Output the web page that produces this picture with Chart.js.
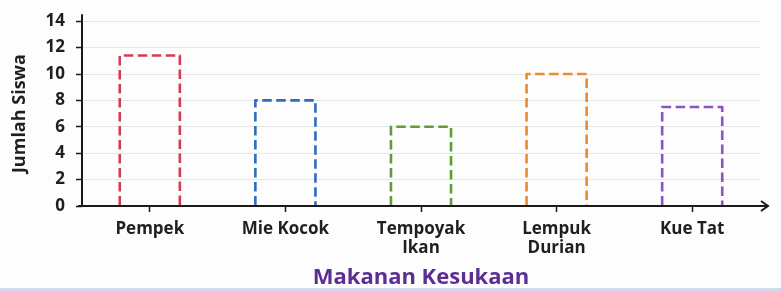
<!DOCTYPE html>
<html>
<head>
<meta charset="utf-8">
<script src="https://cdn.jsdelivr.net/npm/chart.js@4/dist/chart.umd.min.js"></script>
<style>
  html, body { margin: 0; padding: 0; }
  body { width: 781px; height: 291px; background: linear-gradient(to bottom, #fdfdfd 0px, #fdfdfd 288px, #d3d8ee 288px, #d3d8ee 291px); overflow: hidden; }
  #wrap { position: relative; width: 781px; height: 291px; }
</style>
</head>
<body>
<div id="wrap"><canvas id="c"></canvas></div>
<script>
// ---- data ----
const categories = [["Pempek"], ["Mie Kocok"], ["Tempoyak", "Ikan"], ["Lempuk", "Durian"], ["Kue Tat"]];
const values = [11.4, 8, 6, 10, 7.5];
const barColors = ["#d43a5a", "#2e6cc2", "#5c9e34", "#ee8a2c", "#8c52c6"];
const yTickValues = [0, 2, 4, 6, 8, 10, 12, 14];
const yTitle = "Jumlah Siswa";
const xTitle = "Makanan Kesukaan";

const FONT = "'Open Sans', 'DejaVu Sans', sans-serif";
const TEXT = "#1f1f1f";

// dashed outline bars (open bottom) drawn from the library's computed bar elements
const dashedBars = {
  id: 'dashedBars',
  afterDatasetsDraw(chart) {
    const ctx = chart.ctx;
    chart.data.datasets.forEach((ds, di) => {
      const meta = chart.getDatasetMeta(di);
      meta.data.forEach((bar, i) => {
        const p = bar.getProps(['x', 'y', 'base', 'width'], true);
        const l = p.x - p.width / 2, r = p.x + p.width / 2;
        ctx.save();
        ctx.strokeStyle = ds.outlineColors[i];
        ctx.lineWidth = 2.6;
        ctx.setLineDash([9.5, 4.5]);
        ctx.lineJoin = 'round';
        ctx.beginPath();
        ctx.moveTo(l, p.base);
        ctx.lineTo(l, p.y);
        ctx.lineTo(r, p.y);
        ctx.lineTo(r, p.base);
        ctx.stroke();
        ctx.restore();
      });
    });
  }
};

// axis lines with arrow on x axis
const axesLines = {
  id: 'axesLines',
  afterDraw(chart) {
    const ctx = chart.ctx;
    const ca = chart.chartArea;
    const x0 = chart.scales.x.left;
    const y0 = chart.scales.y.getPixelForValue(0);
    ctx.save();
    ctx.strokeStyle = '#1a1a1a';
    ctx.lineWidth = 2;
    ctx.setLineDash([]);
    ctx.beginPath();
    ctx.moveTo(x0, ca.top - 7);
    ctx.lineTo(x0, y0);
    ctx.stroke();
    ctx.beginPath();
    ctx.moveTo(x0 - 4, y0);
    ctx.lineTo(ca.right + 8, y0);
    ctx.stroke();
    ctx.beginPath();
    ctx.moveTo(ca.right + 1, y0 - 5);
    ctx.lineTo(ca.right + 8, y0);
    ctx.lineTo(ca.right + 1, y0 + 5);
    ctx.stroke();
    ctx.restore();
  }
};

new Chart(document.getElementById('c'), {
  type: 'bar',
  data: {
    labels: categories,
    datasets: [{
      data: values,
      backgroundColor: 'rgba(0,0,0,0)',
      borderWidth: 0,
      outlineColors: barColors,
      categoryPercentage: 1,
      barPercentage: 0.443
    }]
  },
  options: {
    responsive: true,
    maintainAspectRatio: false,
    animation: false,
    layout: { padding: { top: 20, right: 21, left: 0, bottom: 0 } },
    plugins: { legend: { display: false }, tooltip: { enabled: false } },
    scales: {
      y: {
        min: 0, max: 14,
        afterBuildTicks(scale) { scale.ticks = yTickValues.map(v => ({ value: v })); },
        afterFit(scale) { scale.width = 82; },
        border: { display: false },
        grid: { color: '#e6e6e6', lineWidth: 1, tickColor: '#1a1a1a', tickLength: 6, tickWidth: 1.5 },
        ticks: { color: TEXT, padding: 11, font: { family: FONT, size: 17, weight: 'bold' } },
        title: { display: true, text: yTitle, color: TEXT, padding: { top: 9, bottom: 0 }, font: { family: FONT, size: 18, weight: 'bold' } }
      },
      x: {
        afterFit(scale) { scale.height = 85; },
        border: { display: false },
        grid: { display: true, drawOnChartArea: false, offset: false, tickColor: '#1a1a1a', tickLength: 6, tickWidth: 1.5 },
        ticks: { color: TEXT, padding: 8, maxRotation: 0, autoSkip: false, font: { family: FONT, size: 17, weight: 'bold', lineHeight: 1.12 } },
        title: { display: true, text: xTitle, color: '#5c2e94', padding: { top: 0, bottom: 0 }, font: { family: FONT, size: 22, weight: 'bold' } }
      }
    }
  },
  plugins: [dashedBars, axesLines]
});
</script>
</body>
</html>
